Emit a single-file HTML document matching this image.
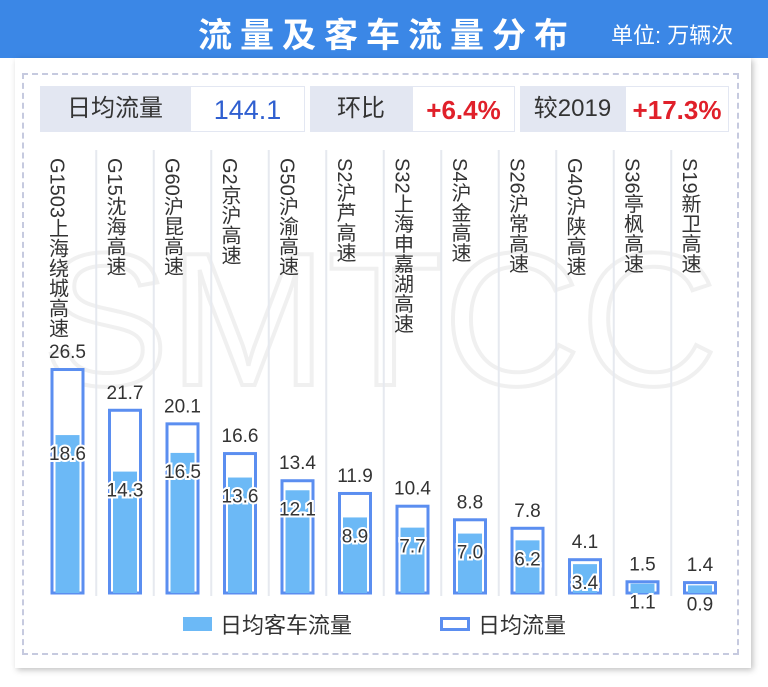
<!DOCTYPE html>
<html><head><meta charset="utf-8"><style>
body{margin:0;width:768px;height:687px;background:#fff;font-family:"Liberation Sans","Noto Sans CJK SC",sans-serif;overflow:hidden;position:relative}
.hdr{position:absolute;left:0;top:0;width:768px;height:58px;background:#3b87e6}
.ttl{position:absolute;left:198px;top:8px;font-size:34px;font-weight:bold;color:#fff;letter-spacing:8px}
.unit{position:absolute;left:611px;top:18px;font-size:22px;color:#fff}
.panel{position:absolute;left:15px;top:58px;width:736px;height:610px;background:#fff;box-shadow:2px 2px 6px rgba(0,0,0,.25)}
.dash{position:absolute;left:22px;top:73px;width:713px;height:578px;border:2px dashed #c6cadf}
.st{position:absolute;top:86px;height:46px;font-size:24px;line-height:46px;text-align:center}
.lb{background:#e3e7f2;color:#333}.vl{background:#fff;border:1px solid #e3e7f2;box-sizing:border-box}
</style></head><body>
<div class="hdr"></div>
<div class="ttl">流量及客车流量分布</div>
<div class="unit">单位: 万辆次</div>
<div class="panel"></div>
<div class="dash"></div>
<div class="st lb" style="left:40px;width:150px">日均流量</div>
<div class="st vl" style="left:190px;width:115px;color:#2f5fd0;font-size:27px">144.1</div>
<div class="st lb" style="left:310px;width:102px">环比</div>
<div class="st vl" style="left:412px;width:103px;color:#e0202a;font-size:26px;font-weight:bold">+6.4%</div>
<div class="st lb" style="left:520px;width:105px">较2019</div>
<div class="st vl" style="left:625px;width:104px;color:#e0202a;font-size:26px;font-weight:bold">+17.3%</div>
<svg id="c" width="768" height="687" style="position:absolute;left:0;top:0">
<text x="380" y="385" font-size="190" text-anchor="middle" fill="none" stroke="#f0f0f0" stroke-width="4" font-family="Liberation Sans">SMTCC</text>
</svg>
<script>
const categories=["G1503上海绕城高速","G15沈海高速","G60沪昆高速","G2京沪高速","G50沪渝高速","S2沪芦高速","S32上海申嘉湖高速","S4沪金高速","S26沪常高速","G40沪陕高速","S36亭枫高速","S19新卫高速"];
const totalFlow=[26.5,21.7,20.1,16.6,13.4,11.9,10.4,8.8,7.8,4.1,1.5,1.4];
const busFlow=[18.6,14.3,16.5,13.6,12.1,8.9,7.7,7.0,6.2,3.4,1.1,0.9];
const svg=document.getElementById('c');const NS='http://www.w3.org/2000/svg';
const base=593,k=8.49;
function y(v){return base-v*k}
function cx(i){return 67.5+i*57.5}
function mk(t,a){const e=document.createElementNS(NS,t);for(const n in a)e.setAttribute(n,a[n]);svg.appendChild(e);return e}
categories.forEach((c,i)=>{
 if(i>0){const l=mk('line',{x1:cx(i)-28.75,x2:cx(i)-28.75,y1:150,y2:596,stroke:'#e6e9ef','stroke-width':2});
 
 }
 const t=mk('text',{x:cx(i)-11,y:158,'font-size':20,fill:'#333','writing-mode':'tb'});t.textContent=c;
 
 
 const o=mk('rect',{x:cx(i)-15.5,y:y(totalFlow[i])+1.5,width:31,height:totalFlow[i]*k-1.5,fill:'#fff',stroke:'#5b8ef0','stroke-width':3});
 
 
 const b=mk('rect',{x:cx(i)-12,y:y(busFlow[i]),width:24,height:busFlow[i]*k,fill:'#6cb9f6'});
 
 
 const tv=mk('text',{x:cx(i),y:y(totalFlow[i])-10,'font-size':19,'text-anchor':'middle',fill:'#333'});tv.textContent=totalFlow[i].toFixed(1);
 
 
 const bv=mk('text',{x:cx(i),y:y(busFlow[i])+25,'font-size':19,'text-anchor':'middle',fill:'#333',stroke:'#fff','stroke-width':4,'paint-order':'stroke'});bv.textContent=busFlow[i].toFixed(1);
 
 
});
const l1=mk('rect',{x:183,y:617,width:29,height:14,fill:'#6cb9f6'});


const t1=mk('text',{x:220,y:633,'font-size':22,fill:'#333'});t1.textContent='日均客车流量';


const l2=mk('rect',{x:441.5,y:618.5,width:27,height:11,fill:'#fff',stroke:'#5b8ef0','stroke-width':3});


const t2=mk('text',{x:478,y:633,'font-size':22,fill:'#333'});t2.textContent='日均流量';


</script>
</body></html>
